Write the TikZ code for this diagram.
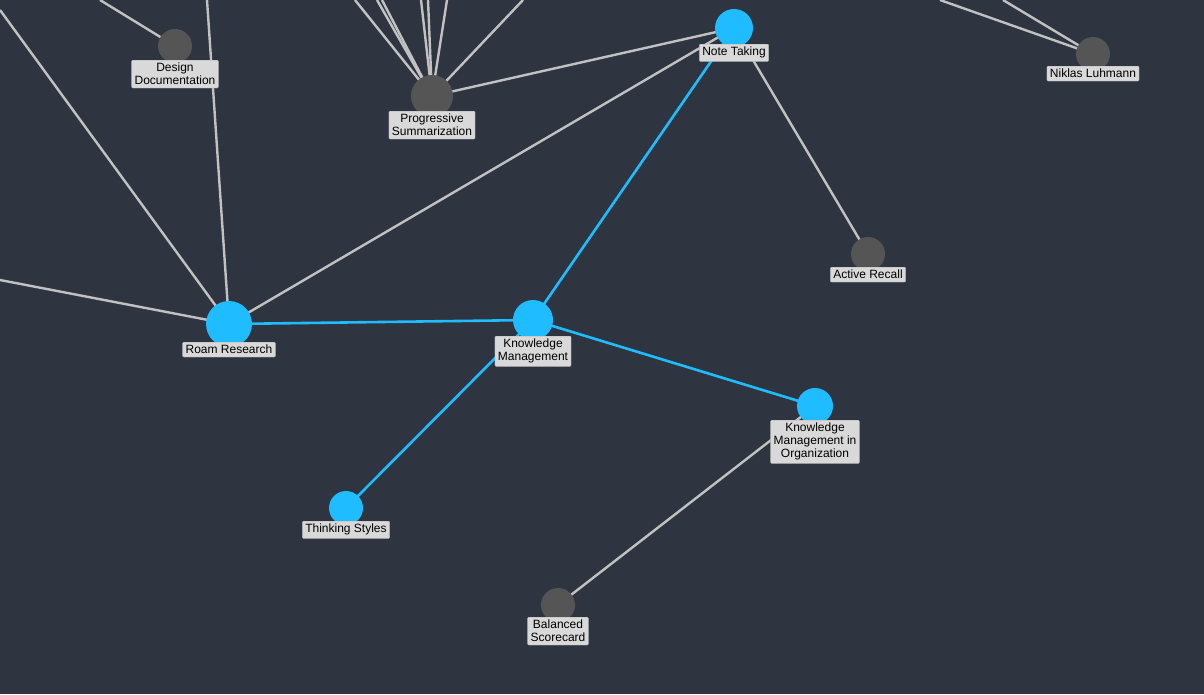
\documentclass[tikz,border=0pt]{standalone}
\usepackage{fontspec}
\setmainfont{Liberation Sans}
\begin{document}
\begin{tikzpicture}[x=1pt,y=-1pt,
  edge/.style={draw=black!20!white!85!gray,line width=2.4pt},
  bedge/.style={draw=hl,line width=2.6pt},
  gnode/.style={circle,fill=gn,inner sep=0pt},
  bnode/.style={circle,fill=hl,inner sep=0pt},
  lbl/.style={anchor=north,fill=lb,draw=gray!60,rounded corners=1pt,font=\fontsize{12}{13}\selectfont,align=center,inner sep=3pt,text=black}]
\definecolor{bg}{HTML}{2E3440}
\definecolor{hl}{HTML}{1FBCFF}
\definecolor{gn}{HTML}{555555}
\definecolor{lb}{HTML}{D9D9D9}
\fill[bg] (0,0) rectangle (1204,694);
\useasboundingbox (0,0) rectangle (1204,694);
\coordinate (dd) at (175,46);
\coordinate (ps) at (432,96);
\coordinate (nt) at (734,28);
\coordinate (nl) at (1093,54);
\coordinate (ar) at (868,254);
\coordinate (rr) at (229,324);
\coordinate (km) at (533,320);
\coordinate (kmo) at (815,406);
\coordinate (ts) at (346,508);
\coordinate (bs) at (558,605);
\foreach \p in {(100,0),(0,10)}{}
\coordinate (e1) at (100,0); \coordinate (e2) at (207,0); \coordinate (e3) at (0,10); \coordinate (e4) at (0,280);
\coordinate (p1) at (355,0); \coordinate (p2) at (377,0); \coordinate (p3) at (382,0); \coordinate (p4) at (421,0);
\coordinate (p5) at (428,0); \coordinate (p6) at (447,0); \coordinate (p7) at (523,0);
\coordinate (n1) at (940,0); \coordinate (n2) at (1003,0);
\foreach \a/\b in {e1/dd,e2/rr,e3/rr,e4/rr,p1/ps,p2/ps,p3/ps,p4/ps,p5/ps,p6/ps,p7/ps,n1/nl,n2/nl,rr/nt,ps/nt,nt/ar,kmo/bs}
  \draw[edge] (\a) -- (\b);
\foreach \a/\b in {rr/km,km/nt,km/kmo,km/ts}
  \draw[bedge] (\a) -- (\b);
\node[gnode,minimum size=34pt] (cdd) at (dd) {};
\node[gnode,minimum size=42pt] (cps) at (ps) {};
\node[gnode,minimum size=34pt] (cnl) at (nl) {};
\node[gnode,minimum size=34pt] (car) at (ar) {};
\node[gnode,minimum size=34pt] (cbs) at (bs) {};
\node[bnode,minimum size=38pt] (cnt) at (nt) {};
\node[bnode,minimum size=46pt] (crr) at (rr) {};
\node[bnode,minimum size=40pt] (ckm) at (km) {};
\node[bnode,minimum size=36pt] (ckmo) at (kmo) {};
\node[bnode,minimum size=34pt] (cts) at (ts) {};
\node[lbl] (ldd) at (175,60) {Design\\Documentation};
\node[lbl] (lps) at (432,111) {Progressive\\Summarization};
\node[lbl] (lnt) at (734,44) {Note Taking};
\node[lbl] (lnl) at (1093,66) {Niklas Luhmann};
\node[lbl] (lar) at (868,267) {Active Recall};
\node[lbl] (lrr) at (229,342) {Roam Research};
\node[lbl] (lkm) at (533,336) {Knowledge\\Management};
\node[lbl] (lkmo) at (815,420) {Knowledge\\Management in\\Organization};
\node[lbl] (lts) at (346,521) {Thinking Styles};
\node[lbl] (lbs) at (558,617) {Balanced\\Scorecard};
\end{tikzpicture}
\end{document}
